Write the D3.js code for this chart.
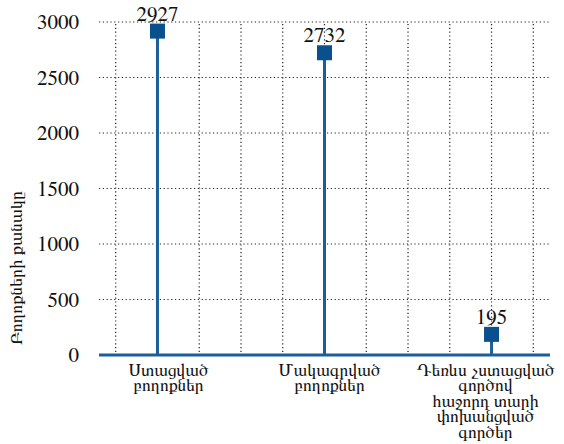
<!DOCTYPE html>
<html><head><meta charset="utf-8">
<script src="https://cdn.jsdelivr.net/npm/d3@7"></script>
<style>body{margin:0;background:#fff;}</style></head>
<body><svg id="c" width="564" height="444"></svg>
<script>
const categories = [
  ["Ստացված","բողոքներ"],
  ["Մակագրված","բողոքներ"],
  ["Դեռևս չստացված","գործով","հաջորդ տարի","փոխանցված","գործեր"]
];
const values = [2927, 2732, 195];
const yTicks = [0, 500, 1000, 1500, 2000, 2500, 3000];
const yTitle = "Բողոքների քանակը";

(function(){
const svg = d3.select("#c");
const fnt = "FreeSerif, 'Liberation Serif', serif";
const pL = 99, pR = 550, pT = 22, pB = 355;
const x = d3.scalePoint().domain(d3.range(categories.length)).range([pL, pR]).padding(0.35);
const y = d3.scaleLinear().domain([0, 3000]).range([pB, pT]);
const step = x.step();
const vgrid = d3.range(-1, 4*(categories.length-1)+2).map(k => x(0) + k*step/4);
const labelShift = [11, 5, -6];

const stemColor = "#1b5e9b", markColor = "#0a4f8e";

// horizontal grid
svg.append("g").selectAll("line").data(yTicks.filter(d=>d>0)).join("line")
  .attr("x1", pL).attr("x2", pR).attr("y1", d=>y(d)).attr("y2", d=>y(d))
  .attr("stroke", "#222").attr("stroke-width", 1.2).attr("stroke-dasharray", "1.2,2.6");
// vertical grid
svg.append("g").selectAll("line").data(vgrid).join("line")
  .attr("x1", d=>d).attr("x2", d=>d).attr("y1", pT+2).attr("y2", pB)
  .attr("stroke", "#222").attr("stroke-width", 1.2).attr("stroke-dasharray", "1.2,2.6");

// y axis labels
const yAxis = d3.axisLeft(y).tickValues(yTicks).tickFormat(d3.format("d")).tickSize(0).tickPadding(0);
const ga = svg.append("g").attr("transform", `translate(${pL-20},0)`).call(yAxis);
ga.attr("font-family", fnt).attr("font-size", 21);
ga.select(".domain").remove();
ga.selectAll("text").attr("fill", "#111").attr("dy", "0.33em");

// y title
svg.append("text").attr("transform", "translate(22,268) rotate(-90)")
  .attr("text-anchor", "middle").attr("font-family", fnt).attr("font-size", 18).attr("fill", "#111").text(yTitle);

// stems
svg.append("g").selectAll("line").data(values).join("line")
  .attr("x1", (d,i)=>x(i)).attr("x2", (d,i)=>x(i)).attr("y1", pB).attr("y2", d=>y(d))
  .attr("stroke", stemColor).attr("stroke-width", 3);

// x axis line
svg.append("line").attr("x1", pL).attr("x2", pR).attr("y1", y(0)).attr("y2", y(0))
  .attr("stroke", stemColor).attr("stroke-width", 3);

// markers
const ms = 15;
svg.append("g").selectAll("rect").data(values).join("rect")
  .attr("x", (d,i)=>x(i)-ms/2).attr("y", d=>y(d)-ms/2+1).attr("width", ms).attr("height", ms)
  .attr("fill", markColor);

// value labels
svg.append("g").selectAll("text").data(values).join("text")
  .attr("x", (d,i)=>x(i)).attr("y", d=>y(d)-9.5).attr("text-anchor", "middle")
  .attr("font-family", fnt).attr("font-size", 21).attr("fill", "#111").text(d=>d);

// category labels
const cg = svg.append("g").selectAll("text").data(categories).join("text")
  .attr("x", (d,i)=>x(i)+labelShift[i]).attr("y", 376).attr("text-anchor", "middle")
  .attr("font-family", fnt).attr("font-size", 17.5).attr("fill", "#111");
cg.selectAll("tspan").data(d=>d).join("tspan")
  .attr("x", function(){ return this.parentNode.getAttribute("x"); })
  .attr("dy", (d,i)=> i===0 ? 0 : 15.4).text(d=>d);
})();
</script></body></html>
